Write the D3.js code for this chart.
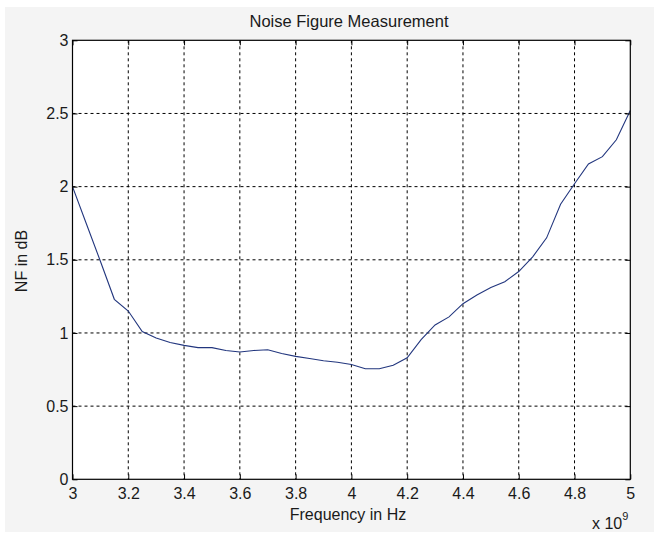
<!DOCTYPE html>
<html><head><meta charset="utf-8">
<script src="https://cdn.jsdelivr.net/npm/d3@7"></script>
<style>body{margin:0;background:#fff}svg{display:block}text{font-family:"Liberation Sans",Arial,sans-serif;fill:#1a1a1a}</style>
</head><body>
<svg id="c" width="654" height="533"></svg>
<script>
const freqGHz = [3.00,3.05,3.10,3.15,3.20,3.25,3.30,3.35,3.40,3.45,3.50,3.55,3.60,3.65,3.70,3.75,3.80,3.85,3.90,3.95,4.00,4.05,4.10,4.15,4.20,4.25,4.30,4.35,4.40,4.45,4.50,4.55,4.60,4.65,4.70,4.75,4.80,4.85,4.90,4.95,5.00];
const nfDb = [2.00,1.745,1.49,1.23,1.15,1.01,0.965,0.935,0.915,0.90,0.90,0.88,0.87,0.88,0.885,0.86,0.84,0.825,0.81,0.80,0.785,0.755,0.755,0.78,0.83,0.955,1.055,1.11,1.20,1.26,1.31,1.35,1.42,1.52,1.65,1.88,2.02,2.155,2.205,2.32,2.52];
const xTicks = [3,3.2,3.4,3.6,3.8,4,4.2,4.4,4.6,4.8,5];
const yTicks = [0,0.5,1,1.5,2,2.5,3];
const titleText = "Noise Figure Measurement";
const xLabel = "Frequency in Hz";
const yLabel = "NF in dB";

const svg = d3.select("#c");
svg.append("rect").attr("x",5).attr("y",7).attr("width",649).attr("height",525).attr("fill","#f4f4f4");
const L=72.5,R=630.3,T=40.3,B=479.3;
const x = d3.scaleLinear().domain([3,5]).range([L,R]);
const y = d3.scaleLinear().domain([0,3]).range([B,T]);
svg.append("rect").attr("x",L).attr("y",T).attr("width",R-L).attr("height",B-T).attr("fill","#fff");
const g = svg.append("g");
// grid
g.selectAll(".gx").data(xTicks.slice(1,-1)).join("line")
 .attr("x1",d=>x(d)).attr("x2",d=>x(d)).attr("y1",T).attr("y2",B)
 .attr("stroke","#000").attr("stroke-width",1).attr("stroke-dasharray","3,3");
g.selectAll(".gy").data(yTicks.slice(1,-1)).join("line")
 .attr("y1",d=>y(d)).attr("y2",d=>y(d)).attr("x1",L).attr("x2",R)
 .attr("stroke","#000").attr("stroke-width",1).attr("stroke-dasharray","3,3");
// line
const line = d3.line().x((d,i)=>x(freqGHz[i])).y(d=>y(d));
g.append("path").datum(nfDb).attr("d",line).attr("fill","none").attr("stroke","#22367e").attr("stroke-width",1.1);
// axes
const ax = d3.axisBottom(x).tickValues(xTicks).tickFormat(d3.format("")).tickSizeInner(-5).tickSizeOuter(0).tickPadding(8);
const ay = d3.axisLeft(y).tickValues(yTicks).tickFormat(d3.format("")).tickSizeInner(-5).tickSizeOuter(0).tickPadding(4);
const axt = d3.axisTop(x).tickValues(xTicks).tickFormat("").tickSizeInner(-5).tickSizeOuter(0);
const ayr = d3.axisRight(y).tickValues(yTicks).tickFormat("").tickSizeInner(-5).tickSizeOuter(0);
function style(sel){sel.select(".domain").remove();sel.selectAll("line").attr("stroke","#000");sel.selectAll("text").attr("font-size",16).attr("fill","#1a1a1a").attr("font-family","Liberation Sans, Arial, sans-serif");}
svg.append("g").attr("transform",`translate(0,${B})`).call(ax).call(style);
svg.append("g").attr("transform",`translate(${L},0)`).call(ay).call(style);
svg.append("g").attr("transform",`translate(0,${T})`).call(axt).call(style);
svg.append("g").attr("transform",`translate(${R},0)`).call(ayr).call(style);
svg.append("rect").attr("x",L).attr("y",T).attr("width",R-L).attr("height",B-T).attr("fill","none").attr("stroke","#000").attr("stroke-width",1.2);
// texts
svg.append("text").attr("x",349).attr("y",27).attr("text-anchor","middle").attr("font-size",16.5).text(titleText);
svg.append("text").attr("x",348).attr("y",520).attr("text-anchor","middle").attr("font-size",16).text(xLabel);
svg.append("text").attr("transform",`translate(27,261) rotate(-90)`).attr("text-anchor","middle").attr("font-size",16).text(yLabel);
const ex = svg.append("text").attr("x",592).attr("y",529).attr("font-size",16);
ex.append("tspan").text("x 10");
ex.append("tspan").attr("dy",-9).attr("font-size",11).text("9");
</script>
</body></html>
